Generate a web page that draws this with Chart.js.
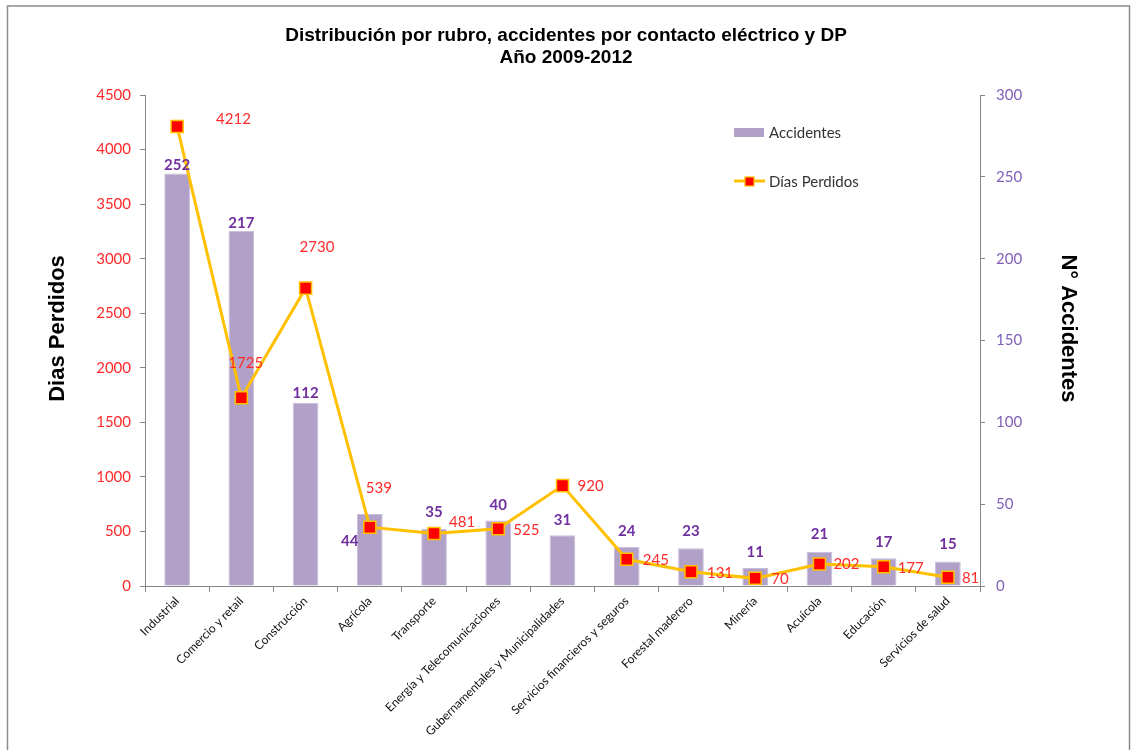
<!DOCTYPE html>
<html>
<head>
<meta charset="utf-8">
<script src="https://cdn.jsdelivr.net/npm/chart.js@4.4.1/dist/chart.umd.min.js"></script>
<style>
  html, body { margin: 0; padding: 0; background: #fff; }
  #wrap { width: 1132px; height: 750px; }
</style>
</head>
<body>
<div id="wrap"><canvas id="grafico" width="1132" height="750"></canvas></div>
<script>
var categorias = ['Industrial', 'Comercio y retail', 'Construcción', 'Agrícola', 'Transporte',
    'Energía y Telecomunicaciones', 'Gubernamentales y Municipalidades', 'Servicios financieros y seguros',
    'Forestal maderero', 'Minería', 'Acuícola', 'Educación', 'Servicios de salud'];
var accidentes = [252, 217, 112, 44, 35, 40, 31, 24, 23, 11, 21, 17, 15];
var diasPerdidos = [4212, 1725, 2730, 539, 481, 525, 920, 245, 131, 70, 202, 177, 81];
var ticksDias = [0, 500, 1000, 1500, 2000, 2500, 3000, 3500, 4000, 4500];
var ticksAccidentes = [0, 50, 100, 150, 200, 250, 300];

// desplazamiento de las etiquetas respecto a cada punto / barra
var despLinea = [[39, -7], [-13, -35], [-6, -41], [-4, -39], [15, -11], [15, 1], [15, 1],
    [16, 1], [16, 1], [16, 1], [14, 0], [14, 1], [14, 1]];
var despBarra = [[0, -8], [0, -8], [0, -10], [-20, 27], [0, -17], [0, -15], [0, -15],
    [0, -16], [0, -17], [0, -16], [0, -17], [0, -16], [0, -17]];

var ROJO = '#FF2A2A';
var MORADO = '#7030A0';
var LILA = '#B1A0C7';
var DORADO = '#FFC000';
var GRIS = '#868686';
var fuente = 'Lato, "Open Sans", sans-serif';
var arial = 'Arial, "Liberation Sans", sans-serif';

var marco = {
    id: 'marco',
    beforeDraw: function (chart) {
        var ctx = chart.ctx;
        ctx.save();
        ctx.fillStyle = '#fff';
        ctx.fillRect(0, 0, chart.width, chart.height);
        ctx.strokeStyle = '#8c8c8c';
        ctx.lineWidth = 1.5;
        ctx.strokeRect(7.5, 6, 1122, 760);

        // títulos de los ejes verticales
        var a = chart.chartArea;
        var yMedio = (a.top + a.bottom) / 2 - 12;
        ctx.font = 'bold 22px ' + arial;
        ctx.fillStyle = '#000';
        ctx.textAlign = 'center';
        ctx.textBaseline = 'middle';
        ctx.save();
        ctx.translate(58, yMedio);
        ctx.rotate(-Math.PI / 2);
        ctx.fillText('Dias Perdidos', 0, 0);
        ctx.restore();
        ctx.save();
        ctx.translate(1068, yMedio);
        ctx.rotate(Math.PI / 2);
        ctx.fillText('N° Accidentes', 0, 0);
        ctx.restore();
        ctx.restore();
    }
};

var etiquetas = {
    id: 'etiquetas',
    afterDatasetsDraw: function (chart) {
        var ctx = chart.ctx;
        ctx.save();
        ctx.textBaseline = 'middle';

        var barras = chart.getDatasetMeta(0).data;
        ctx.font = 'bold 15px ' + fuente;
        ctx.fillStyle = MORADO;
        ctx.textAlign = 'center';
        barras.forEach(function (b, i) {
            ctx.fillText(accidentes[i], b.x + despBarra[i][0], b.y + despBarra[i][1]);
        });

        var puntos = chart.getDatasetMeta(1).data;
        ctx.font = '15px ' + fuente;
        ctx.fillStyle = ROJO;
        ctx.textAlign = 'left';
        puntos.forEach(function (p, i) {
            ctx.fillText(diasPerdidos[i], p.x + despLinea[i][0], p.y + despLinea[i][1]);
        });

        // leyenda dentro del área del gráfico
        ctx.fillStyle = LILA;
        ctx.fillRect(734, 128, 30, 9);
        ctx.strokeStyle = DORADO;
        ctx.lineWidth = 3;
        ctx.beginPath();
        ctx.moveTo(734, 181);
        ctx.lineTo(765, 181);
        ctx.stroke();
        ctx.fillStyle = '#FF0000';
        ctx.lineWidth = 1.2;
        ctx.fillRect(745, 177, 9, 9);
        ctx.strokeRect(745, 177, 9, 9);
        ctx.font = '15px ' + fuente;
        ctx.fillStyle = '#333';
        ctx.fillText('Accidentes', 769, 133);
        ctx.fillText('Días Perdidos', 769, 182);
        ctx.restore();
    }
};

new Chart(document.getElementById('grafico'), {
    type: 'bar',
    data: {
        labels: categorias,
        datasets: [{
            type: 'bar',
            label: 'Accidentes',
            data: accidentes,
            yAxisID: 'yAcc',
            backgroundColor: LILA,
            borderColor: '#C9BDDB',
            borderWidth: 1,
            barPercentage: 0.4,
            categoryPercentage: 1,
            order: 2
        }, {
            type: 'line',
            label: 'Días Perdidos',
            data: diasPerdidos,
            yAxisID: 'yDias',
            borderColor: DORADO,
            borderWidth: 3,
            pointStyle: 'rect',
            pointRadius: 8.5,
            pointBackgroundColor: '#FF0000',
            pointBorderColor: DORADO,
            pointBorderWidth: 1.5,
            tension: 0,
            order: 1
        }]
    },
    options: {
        responsive: false,
        animation: false,
        layout: { padding: 0 },
        plugins: {
            legend: { display: false },
            tooltip: { enabled: false },
            title: {
                display: true,
                text: ['Distribución por rubro, accidentes por contacto eléctrico y DP', 'Año 2009-2012'],
                color: '#000',
                font: { family: arial, size: 19, weight: 'bold', lineHeight: '22px' },
                padding: { top: 25, bottom: 26 }
            }
        },
        scales: {
            x: {
                grid: { display: true, drawOnChartArea: false, color: GRIS, tickLength: 6, offset: true },
                border: { color: GRIS, width: 1 },
                ticks: {
                    color: '#111',
                    font: { family: fuente, size: 12 },
                    minRotation: 45,
                    maxRotation: 45,
                    autoSkip: false,
                    padding: 2
                },
                afterFit: function (s) { s.height = 750 - 586; }
            },
            yDias: {
                position: 'left',
                min: 0,
                max: 4500,
                afterBuildTicks: function (s) { s.ticks = ticksDias.map(function (v) { return { value: v }; }); },
                grid: { display: true, drawOnChartArea: false, color: GRIS, tickLength: 5 },
                border: { color: GRIS, width: 1 },
                ticks: {
                    color: ROJO,
                    font: { family: fuente, size: 15 },
                    padding: 9,
                    callback: function (v) { return String(v); }
                },
                afterFit: function (s) { s.width = 145; }
            },
            yAcc: {
                position: 'right',
                min: 0,
                max: 300,
                afterBuildTicks: function (s) { s.ticks = ticksAccidentes.map(function (v) { return { value: v }; }); },
                grid: { display: true, drawOnChartArea: false, color: GRIS, tickLength: 5 },
                border: { color: GRIS, width: 1 },
                ticks: {
                    color: '#7F5FB8',
                    font: { family: fuente, size: 15 },
                    padding: 11,
                    callback: function (v) { return String(v); }
                },
                afterFit: function (s) { s.width = 1132 - 980; }
            }
        }
    },
    plugins: [marco, etiquetas]
});
</script>
</body>
</html>
